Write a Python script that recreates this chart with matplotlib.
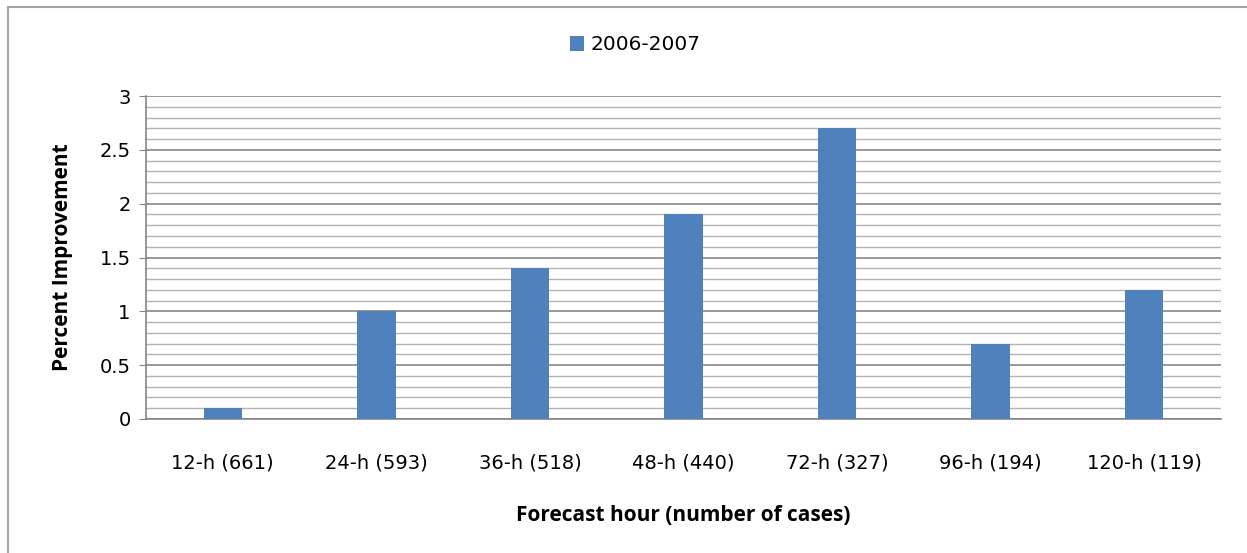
import matplotlib
matplotlib.use("Agg")
import matplotlib.pyplot as plt
from matplotlib.patches import Rectangle
import numpy as np

categories = ["12-h (661)", "24-h (593)", "36-h (518)", "48-h (440)", "72-h (327)", "96-h (194)", "120-h (119)"]
values = [0.1, 1.0, 1.4, 1.9, 2.7, 0.7, 1.2]
series_name = "2006-2007"

plt.rcParams['font.family'] = ['DejaVu Sans']
label_font = ['Open Sans', 'DejaVu Sans']

W, H = 1247, 553
fig = plt.figure(figsize=(W/100, H/100), dpi=100)
fig.patches.append(Rectangle((8/W, -0.05), 1.5, 1 - 7/H + 0.05, transform=fig.transFigure,
                             fill=False, edgecolor='#a6a6a6', linewidth=1.5))

ax = fig.add_axes([146/W, 1 - 419/H, (1221-146)/W, (419-96)/H])
x = np.arange(len(categories))
ax.bar(x, values, width=0.25, color='#4f81bd', zorder=3, label=series_name)
ax.set_xlim(-0.5, len(categories) - 0.5)
ax.set_ylim(0, 3)
ax.set_yticks(np.arange(0, 3.01, 0.5))
ax.set_yticklabels(["0", "0.5", "1", "1.5", "2", "2.5", "3"])
ax.set_yticks(np.arange(0, 3.01, 0.1), minor=True)
ax.yaxis.grid(True, which='major', color='#868686', linewidth=1.2, zorder=0)
ax.yaxis.grid(True, which='minor', color='#b3b3b3', linewidth=1.0, zorder=0)
ax.tick_params(axis='y', which='major', length=5, color='#868686', labelsize=14, pad=6)
ax.tick_params(axis='y', which='minor', length=0)
ax.set_xticks(x)
ax.set_xticklabels(categories)
ax.tick_params(axis='x', length=0, labelsize=14, pad=25)
for s in ['top', 'right']:
    ax.spines[s].set_visible(False)
ax.spines['left'].set_color('#868686')
ax.spines['bottom'].set_color('#868686')
ax.spines['left'].set_linewidth(1.2)
ax.spines['bottom'].set_linewidth(1.2)

ax.set_ylabel("Percent Improvement", fontsize=15, fontweight='bold', family=label_font, labelpad=19)
ax.set_xlabel("Forecast hour (number of cases)", fontsize=15, fontweight='bold', family=label_font, labelpad=23)

fig.legend(handles=ax.patches[:1], labels=[series_name], loc='center', bbox_to_anchor=(635/W, 1 - 45/H),
           frameon=False, fontsize=14.5, handlelength=0.7, handleheight=0.7, handletextpad=0.3)

fig.savefig("out.png", dpi=100, facecolor='white')
